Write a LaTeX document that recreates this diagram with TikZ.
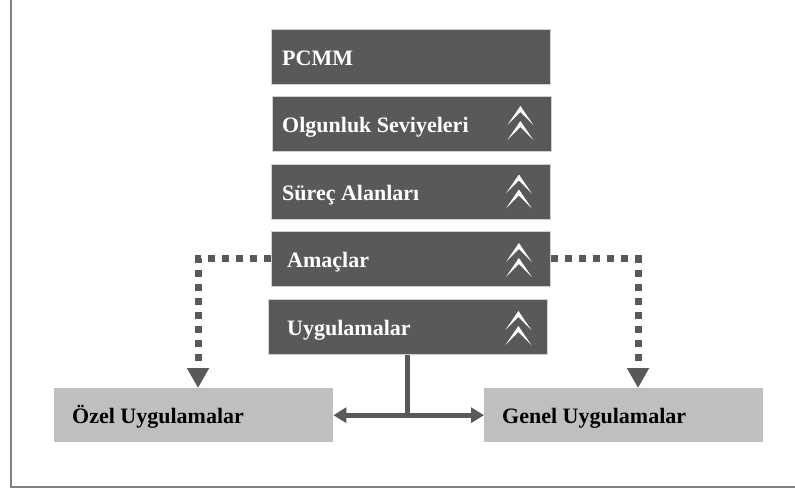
\documentclass[tikz,border=0pt]{standalone}
\usepackage{fontspec}
\setmainfont{Liberation Serif}
\usetikzlibrary{arrows.meta,calc}

\definecolor{boxdark}{HTML}{595959}
\definecolor{boxlight}{HTML}{BFBFBF}
\definecolor{boxedge}{HTML}{D0D0D0}
\definecolor{framegray}{HTML}{808080}

\tikzset{
  darkbox/.style={fill=boxdark, draw=boxedge, line width=0.8pt,
    minimum width=279pt, minimum height=55pt, inner sep=0pt, anchor=north west},
  lightbox/.style={fill=boxlight, minimum width=279pt, minimum height=54pt,
    inner sep=0pt, anchor=north west},
  darklabel/.style={text=white, font=\fontsize{22}{26}\selectfont\bfseries,
    inner sep=0pt, anchor=base west},
  lightlabel/.style={text=black, font=\fontsize{22}{26}\selectfont\bfseries,
    inner sep=0pt, anchor=base west},
  dotflow/.style={draw=boxdark, line width=7pt, dash pattern=on 7pt off 7pt,
    -{Triangle[length=20pt,width=21pt]}},
  solidflow/.style={draw=boxdark, line width=5pt},
  framerule/.style={draw=framegray, line width=1.5pt},
  chevrons/.pic={
    \fill[white] (0,0) -- (13,19) -- (0,6) -- (-13,19) -- cycle;
    \fill[white] (0,15) -- (13,34) -- (0,21) -- (-13,34) -- cycle;
  }
}

\begin{document}
\begin{tikzpicture}[x=1pt,y=-1pt]
  \useasboundingbox (0,0) rectangle (795,490);

  % open frame: left and bottom rules
  \coordinate (ftop) at (11,0);
  \coordinate (fcorner) at (11,487);
  \coordinate (fright) at (795,487);
  \draw[framerule] (ftop) -- (fcorner) -- (fright);

  % stacked levels
  \node[darkbox] (pcmm) at (271,29) {};
  \node[darkbox] (olg)  at (272,96) {};
  \node[darkbox] (sur)  at (271,164) {};
  \node[darkbox] (ama)  at (271,231) {};
  \node[darkbox] (uyg)  at (268,299) {};

  \node[darklabel] (tpcmm) at ([xshift=11pt,yshift=-8.5pt]pcmm.west) {PCMM};
  \node[darklabel] (tolg)  at ([xshift=10pt,yshift=-9pt]olg.west) {Olgunluk Seviyeleri};
  \node[darklabel] (tsur)  at ([xshift=11pt,yshift=-8.5pt]sur.west) {Süreç Alanları};
  \node[darklabel] (tama)  at ([xshift=16pt,yshift=-8.5pt]ama.west) {Amaçlar};
  \node[darklabel] (tuyg)  at ([xshift=19pt,yshift=-8.5pt]uyg.west) {Uygulamalar};

  \pic at ([xshift=108.5pt,yshift=-10pt]olg.north) {chevrons};
  \pic at ([xshift=108pt,yshift=-10.5pt]sur.north) {chevrons};
  \pic at ([xshift=108pt,yshift=-12pt]ama.north) {chevrons};
  \pic at ([xshift=110.5pt,yshift=-12pt]uyg.north) {chevrons};

  % practice types
  \node[lightbox] (ozel)  at (54,388) {};
  \node[lightbox] (genel) at (484,388) {};
  \node[lightlabel] (tozel)  at ([xshift=18pt,yshift=-8pt]ozel.west) {Özel Uygulamalar};
  \node[lightlabel] (tgenel) at ([xshift=18pt,yshift=-8pt]genel.west) {Genel Uygulamalar};

  % dotted flows from the goals level
  \coordinate (lbend) at (198,0);
  \coordinate (rbend) at (638,0);
  \draw[dotflow] (ama.west) -| (lbend |- ozel.north);
  \draw[dotflow] (ama.east) -| (rbend |- genel.north);

  % practices split into the two types
  \coordinate (junction) at (uyg.south |- ozel.east);
  \draw[solidflow] (uyg.south) -- (junction);
  \draw[solidflow, {Triangle[length=13pt,width=15pt]}-{Triangle[length=13pt,width=15pt]}]
    (ozel.east) -- (genel.west);
\end{tikzpicture}
\end{document}
